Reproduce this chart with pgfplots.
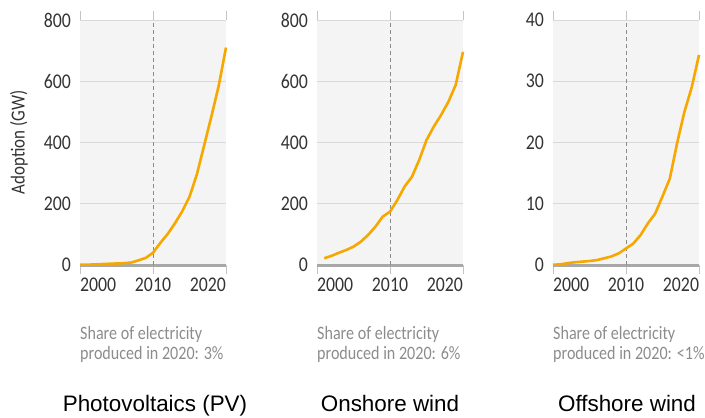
\documentclass[border=0pt]{standalone}
\usepackage{fontspec}
\setmainfont{Liberation Sans}
\newfontfamily\cond[FakeStretch=0.85]{Carlito}
\usepackage{pgfplots}
\pgfplotsset{compat=1.18}

\definecolor{solar}{HTML}{F7A800}
\definecolor{bgpanel}{HTML}{F4F4F4}
\definecolor{gridc}{HTML}{D9D9D9}
\definecolor{basec}{HTML}{A8A8A8}
\definecolor{tickmk}{HTML}{C4C4C4}
\definecolor{tickc}{HTML}{333333}
\definecolor{notec}{HTML}{8C8C8C}
\definecolor{dashc}{HTML}{8A8A8A}

\pgfplotsset{panel/.style={
  width=146bp, height=245bp, scale only axis,
  anchor=south west,
  xmin=2000, xmax=2020, ymin=0,
  clip=false,
  axis line style={draw=none},
  axis background/.style={fill=bgpanel},
  ymajorgrids, grid style={gridc, line width=0.8bp},
  xtick={2000,2010,2020},
  xticklabels={\makebox[0pt][l]{2000},2010,\makebox[0pt][r]{2020}},
  tick align=outside, major tick length=9bp,
  xtick style={draw=tickmk, line width=0.9bp},
  ytick style={draw=none},
  ticklabel style={font=\cond\fontsize{21}{21}\selectfont, text=tickc},
  /pgf/number format/assume math mode=true,
  yticklabel style={inner xsep=0pt},
}}

% grey note under each panel: left edge, share
\newcommand{\note}[2]{%
  \node[anchor=base west, inner sep=0pt, text=notec, font=\cond\fontsize{19}{20}\selectfont] at (#1bp,-339bp) {Share of electricity};
  \node[anchor=base west, inner sep=0pt, text=notec, font=\cond\fontsize{19}{20}\selectfont] at (#1bp,-359bp) {produced in 2020: #2};
}

\begin{document}
\begin{tikzpicture}
\useasboundingbox (0,0) rectangle (705bp,-418bp);

% Photovoltaics
\begin{axis}[panel, at={(80bp,-265bp)}, ymax=800, ytick={0,200,...,800},
  ylabel={Adoption (GW)},
  every axis y label/.style={at={(rel axis cs:0,0.5)}, xshift=-61bp, rotate=90, anchor=center,
    font=\cond\fontsize{20}{20}\selectfont, text=tickc}]
\addplot[basec, line width=3bp] coordinates {(2000,0) (2020,0)};
\addplot[dashc, line width=0.8bp, dash pattern=on 4bp off 3bp] coordinates {(2010,0) (2010,800)};
\addplot[solar, line width=2.6bp, line join=round] table {
x y
2000 1
2001 1
2002 2
2003 3
2004 4
2005 5
2006 6
2007 8
2008 15
2009 23
2010 40
2011 72
2012 101
2013 136
2014 175
2015 223
2016 295
2017 390
2018 485
2019 585
2020 710
};
\end{axis}

% Onshore wind
\begin{axis}[panel, at={(317bp,-265bp)}, ymax=800, ytick={0,200,...,800}]
\addplot[basec, line width=3bp] coordinates {(2000,0) (2020,0)};
\addplot[dashc, line width=0.8bp, dash pattern=on 4bp off 3bp] coordinates {(2010,0) (2010,800)};
\addplot[solar, line width=2.6bp, line join=round] table {
x y
2001 22
2002 30
2003 40
2004 49
2005 60
2006 76
2007 98
2008 125
2009 158
2010 174
2011 212
2012 256
2013 288
2014 343
2015 408
2016 452
2017 490
2018 533
2019 588
2020 696
};
\end{axis}

% Offshore wind
\begin{axis}[panel, at={(553bp,-265bp)}, ymax=40, ytick={0,10,...,40}]
\addplot[basec, line width=3bp] coordinates {(2000,0) (2020,0)};
\addplot[dashc, line width=0.8bp, dash pattern=on 4bp off 3bp] coordinates {(2010,0) (2010,40)};
\addplot[solar, line width=2.6bp, line join=round] table {
x y
2000 0.05
2001 0.1
2002 0.3
2003 0.45
2004 0.55
2005 0.65
2006 0.8
2007 1.1
2008 1.4
2009 1.9
2010 2.7
2011 3.5
2012 4.9
2013 6.8
2014 8.4
2015 11.2
2016 14.1
2017 19.9
2018 25
2019 29
2020 34.3
};
\end{axis}

\note{80}{3\%}
\note{317}{6\%}
\note{553}{<1\%}
\node[anchor=base, inner sep=0pt, font=\fontsize{22.5}{24}\selectfont] at (155bp,-411bp) {Photovoltaics (PV)};
\node[anchor=base, inner sep=0pt, font=\fontsize{22.5}{24}\selectfont] at (390bp,-411bp) {Onshore wind};
\node[anchor=base, inner sep=0pt, font=\fontsize{22.5}{24}\selectfont] at (627bp,-411bp) {Offshore wind};
\end{tikzpicture}
\end{document}
